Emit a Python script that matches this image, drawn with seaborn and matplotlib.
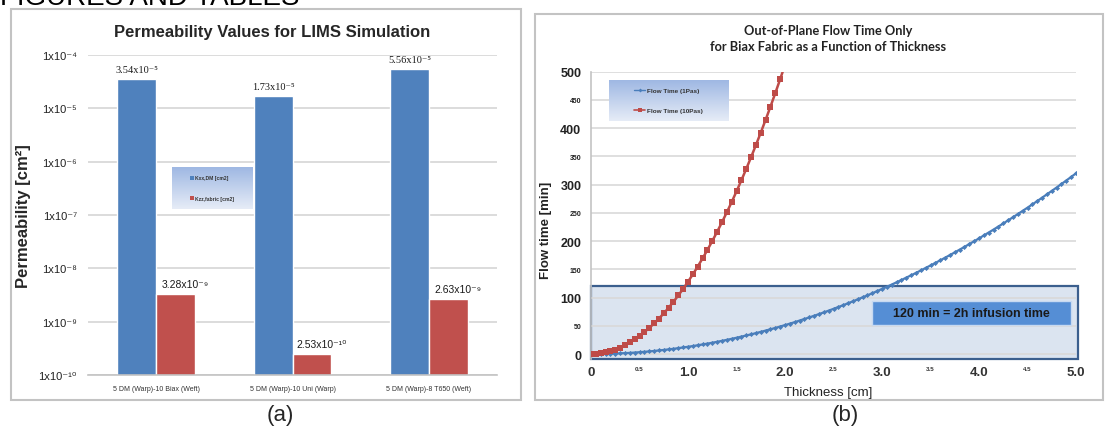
import numpy as np
import pandas as pd
import matplotlib
matplotlib.use("Agg")
import matplotlib.pyplot as plt
import seaborn as sns
from matplotlib.patches import Rectangle
from matplotlib.lines import Line2D
from matplotlib.colors import LinearSegmentedColormap
from matplotlib.ticker import FixedLocator, NullLocator

sns.set_theme(style="white")
plt.rcParams["font.family"] = ["Liberation Sans", "DejaVu Sans"]

# ---------------- (a) permeability per layup ----------------
fabrics = ["5 DM (Warp)-10 Biax (Weft)", "5 DM (Warp)-10 Uni (Warp)", "5 DM (Warp)-8 T650 (Weft)"]
perm_series = ["Kxx,DM [cm2]", "Kzz,fabric [cm2]"]
kxx_dm = [3.54e-5, 1.73e-5, 5.56e-5]
kzz_fabric = [3.28e-9, 2.53e-10, 2.63e-9]
perm_ticks = [1e-10, 1e-9, 1e-8, 1e-7, 1e-6, 1e-5, 1e-4]

# ---------------- (b) out-of-plane flow time ----------------
flow_series = ["Flow Time (1Pas)", "Flow Time (10Pas)"]
thickness = [
    0.00, 0.05, 0.10, 0.15, 0.20, 0.25, 0.30, 0.35, 0.40, 0.45,
    0.50, 0.55, 0.60, 0.65, 0.70, 0.75, 0.80, 0.85, 0.90, 0.95,
    1.00, 1.05, 1.10, 1.15, 1.20, 1.25, 1.30, 1.35, 1.40, 1.45,
    1.50, 1.55, 1.60, 1.65, 1.70, 1.75, 1.80, 1.85, 1.90, 1.95,
    2.00, 2.05, 2.10, 2.15, 2.20, 2.25, 2.30, 2.35, 2.40, 2.45,
    2.50, 2.55, 2.60, 2.65, 2.70, 2.75, 2.80, 2.85, 2.90, 2.95,
    3.00, 3.05, 3.10, 3.15, 3.20, 3.25, 3.30, 3.35, 3.40, 3.45,
    3.50, 3.55, 3.60, 3.65, 3.70, 3.75, 3.80, 3.85, 3.90, 3.95,
    4.00, 4.05, 4.10, 4.15, 4.20, 4.25, 4.30, 4.35, 4.40, 4.45,
    4.50, 4.55, 4.60, 4.65, 4.70, 4.75, 4.80, 4.85, 4.90, 4.95,
    5.00,
]
flow_1pas = [
    0.0, 0.0, 0.1, 0.3, 0.5, 0.8, 1.2, 1.6, 2.0, 2.6,
    3.2, 3.9, 4.6, 5.4, 6.3, 7.2, 8.2, 9.2, 10.4, 11.6,
    12.8, 14.1, 15.5, 16.9, 18.4, 20.0, 21.6, 23.3, 25.1, 26.9,
    28.8, 30.8, 32.8, 34.8, 37.0, 39.2, 41.5, 43.8, 46.2, 48.7,
    51.2, 53.8, 56.4, 59.2, 62.0, 64.8, 67.7, 70.7, 73.7, 76.8,
    80.0, 83.2, 86.5, 89.9, 93.3, 96.8, 100.4, 104.0, 107.6, 111.4,
    115.2, 119.1, 123.0, 127.0, 131.1, 135.2, 139.4, 143.6, 148.0, 152.4,
    156.8, 161.3, 165.9, 170.5, 175.2, 180.0, 184.8, 189.7, 194.7, 199.7,
    204.8, 210.0, 215.2, 220.4, 225.8, 231.2, 236.7, 242.2, 247.8, 253.5,
    259.2, 265.0, 270.8, 276.8, 282.8, 288.8, 294.9, 301.1, 307.3, 313.6,
    320.0,
]
flow_10pas = [
    0.0, 0.3, 1.3, 2.9, 5.1, 8.0, 11.5, 15.7, 20.5, 25.9,
    32.0, 38.7, 46.1, 54.1, 62.7, 72.0, 81.9, 92.5, 103.7, 115.5,
    128.0, 141.1, 154.9, 169.3, 184.3, 200.0, 216.3, 233.3, 250.9, 269.1,
    288.0, 307.5, 327.7, 348.5, 369.9, 392.0, 414.7, 438.1, 462.1, 486.7,
    512.0,
]
infusion_limit = 120
infusion_note = "120 min = 2h infusion time"

BLUE = "#4f81bd"
RED = "#c0504d"
LINE_BLUE = "#4a7ebb"
LINE_RED = "#be4b48"
GRID = "#d9d9d9"
FRAME = "#c3c3c3"

SUP = str.maketrans("0123456789-", "⁰¹²³⁴⁵⁶⁷⁸⁹⁻")


def sci_label(v):
    exp = int(np.floor(np.log10(v)))
    return f"{v / 10 ** exp:.2f}x10{str(exp).translate(SUP)}"


W, H = 1105, 435
fig = plt.figure(figsize=(W / 100, H / 100), dpi=100)


def fx(px):
    return px / W


def fy(py):
    return 1 - py / H


# outer frames around both panels
for x0, y0, x1, y1 in [(11, 10, 521, 401), (535, 15, 1103, 401)]:
    fig.add_artist(Rectangle((fx(x0), fy(y1)), fx(x1 - x0), (y1 - y0) / H,
                             transform=fig.transFigure, fill=False,
                             ec=FRAME, lw=1.5))

# section heading at the top edge
fig.text(0.0, fy(5), "FIGURES AND TABLES", fontsize=20, va="baseline",
         ha="left", color="black")

# ================= panel (a) =================
axL = fig.add_axes([fx(88), fy(376), fx(409), 320 / H])
perm_df = pd.DataFrame({
    "fabric": fabrics * 2,
    "series": [perm_series[0]] * 3 + [perm_series[1]] * 3,
    "k": kxx_dm + kzz_fabric,
})
sns.barplot(data=perm_df, x="fabric", y="k", hue="series",
            palette=[BLUE, RED], saturation=1, width=0.57,
            legend=False, ax=axL, zorder=2)
axL.set_yscale("log", nonpositive="clip")
axL.set_ylim(perm_ticks[0], perm_ticks[-1])
axL.yaxis.set_major_locator(FixedLocator(perm_ticks))
axL.yaxis.set_minor_locator(NullLocator())
axL.set_yticklabels([f"1x10{str(int(np.log10(t))).translate(SUP)}" for t in perm_ticks])
axL.grid(axis="y", color=GRID, lw=1.3)
axL.set_axisbelow(True)
for s in ["top", "right", "left"]:
    axL.spines[s].set_visible(False)
axL.spines["bottom"].set_color(FRAME)
axL.spines["bottom"].set_linewidth(1.2)
axL.tick_params(axis="y", length=0, pad=8, labelsize=8, labelcolor="#222222")
axL.tick_params(axis="x", length=0, pad=7, labelsize=5, labelcolor="#333333")
axL.set_xticks([0.5, 1.5], minor=True)
axL.tick_params(axis="x", which="minor", length=3, color=FRAME, width=1)
axL.set_xlabel("")
axL.set_ylabel("Permeability [cm²]", fontsize=12, fontweight="bold")
axL.yaxis.set_label_coords(-0.139, 0.5)

# value labels over the bars
for cont, vals, fam, dx in [
    (axL.containers[0], kxx_dm, ["Liberation Serif", "DejaVu Serif"], 0),
    (axL.containers[1], kzz_fabric, ["Liberation Sans", "DejaVu Sans"], 10),
]:
    for bar, v in zip(cont, vals):
        axL.annotate(sci_label(v), (bar.get_x() + bar.get_width() / 2, v),
                     xytext=(dx, 5), textcoords="offset pixels",
                     ha="center", va="bottom", fontsize=7.5,
                     family=fam, color="#1a1a1a")

fig.text(fx(272), fy(32), "Permeability Values for LIMS Simulation",
         fontsize=12, fontweight="bold", ha="center", va="center")


def gradient_legend(rect, handles, labels, fontsize, spacing, hlen):
    lax = fig.add_axes(rect)
    cmap = LinearSegmentedColormap.from_list("leg", ["#9fb8e3", "#e6ecf7"])
    lax.imshow(np.linspace(0, 1, 64).reshape(-1, 1), aspect="auto",
               cmap=cmap, extent=[0, 1, 0, 1])
    lax.set_axis_off()
    lax.legend(handles, labels, loc="center", frameon=False,
               prop={"size": fontsize, "weight": "bold"},
               labelspacing=spacing, handletextpad=0.3,
               handlelength=hlen, borderaxespad=0, labelcolor="#333333")
    return lax


gradient_legend(
    [fx(172), fy(210), fx(80), 42 / H],
    [Line2D([], [], ls="None", marker="s", ms=2.2, color=BLUE, mew=0),
     Line2D([], [], ls="None", marker="s", ms=2.2, color=RED, mew=0)],
    perm_series, 3.6, 3.1, 0.6)

fig.text(fx(280), fy(416), "(a)", fontsize=16, ha="center", va="center")

# ================= panel (b) =================
axR = fig.add_axes([fx(591), fy(360.1), fx(485), 287.4 / H])
sns.lineplot(x=thickness, y=flow_1pas, color=LINE_BLUE, marker="D",
             markersize=2.6, markeredgewidth=0, lw=1.6, ax=axR, zorder=3)
sns.lineplot(x=thickness[:len(flow_10pas)], y=flow_10pas, color=LINE_RED,
             marker="s", markersize=4.2, markeredgewidth=0, lw=1.8, ax=axR,
             zorder=4)
axR.set_xlim(0, 5)
axR.set_ylim(-9, 500)

# shaded infusion window
axR.add_patch(Rectangle((0, -9), 5.02, infusion_limit + 9, fc="#dbe4f0",
                        ec="#3b5f8e", lw=1.6, zorder=0.3, clip_on=False))
axR.add_patch(Rectangle((2.9, 51.4), 2.05, 42.5, fc="#558ed5",
                        ec="#c6d9f1", lw=1, zorder=2))
axR.text(3.925, 72.6, infusion_note, ha="center", va="center", fontsize=9,
         fontweight="bold", color="#1a1a1a", zorder=2.5)

yt = list(range(0, 501, 50))
axR.set_yticks(yt)
axR.set_yticklabels([str(v) for v in yt])
for lbl, v in zip(axR.get_yticklabels(), yt):
    lbl.set_fontsize(9 if v % 100 == 0 else 5)
    lbl.set_fontweight("bold")
xt = [0, 0.5, 1, 1.5, 2, 2.5, 3, 3.5, 4, 4.5, 5]
axR.set_xticks(xt)
axR.set_xticklabels(["0"] + [f"{v:.1f}" for v in xt[1:]])
for lbl, v in zip(axR.get_xticklabels(), xt):
    lbl.set_fontsize(9.5 if float(v).is_integer() else 4.5)
    lbl.set_fontweight("bold")
    lbl.set_color("#333333")
axR.tick_params(axis="y", length=3, color=FRAME, pad=4, labelcolor="#222222")
axR.tick_params(axis="x", length=0, pad=5)
axR.grid(axis="y", color=GRID, lw=1.2)
axR.set_axisbelow(True)
for s in ["top", "right", "bottom"]:
    axR.spines[s].set_visible(False)
axR.spines["left"].set_color(FRAME)
axR.spines["left"].set_linewidth(1.2)
axR.set_xlabel("Thickness [cm]", fontsize=9.5, color="#222222")
axR.xaxis.set_label_coords(0.49, -0.095)
axR.set_ylabel("Flow time [min]", fontsize=9.5, fontweight="bold", color="#222222")
axR.yaxis.set_label_coords(-0.08, 0.45)

fig.text(fx(828), fy(39), "Out-of-Plane Flow Time Only\nfor Biax Fabric as a Function of Thickness",
         fontsize=9.2, fontweight="bold", ha="center", va="center",
         family=["Lato", "DejaVu Sans"], linespacing=1.4, color="#222222")

gradient_legend(
    [fx(609), fy(122), fx(119), 41 / H],
    [Line2D([], [], color=LINE_BLUE, marker="D", ms=2, mew=0, lw=1),
     Line2D([], [], color=LINE_RED, marker="s", ms=2.8, mew=0, lw=1.2)],
    flow_series, 4.6, 2.2, 1.6)

fig.text(fx(845), fy(416), "(b)", fontsize=16, ha="center", va="center")

fig.savefig("out.png", dpi=100)
